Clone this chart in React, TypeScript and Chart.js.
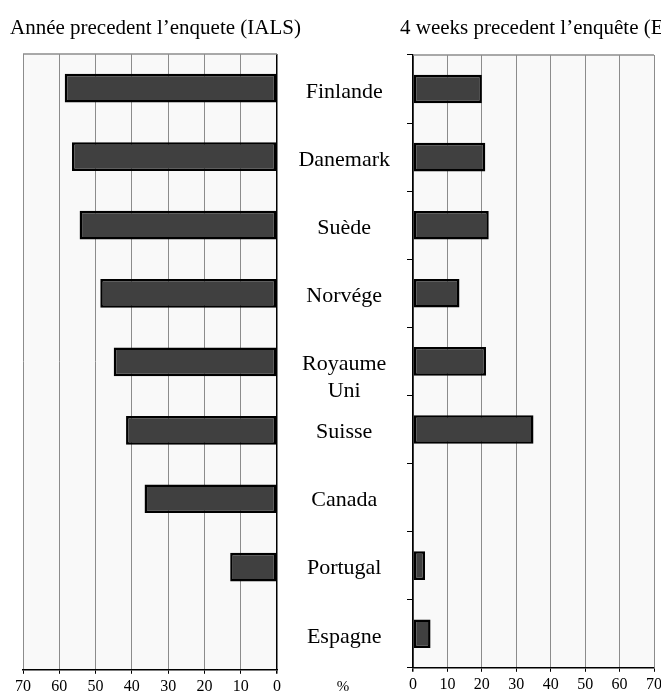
import React, { useEffect, useRef } from 'react';
import { Chart, registerables } from 'chart.js';

Chart.register(...registerables);

const categories: (string | string[])[] = [
  'Finlande',
  'Danemark',
  'Suède',
  'Norvége',
  ['', 'Royaume', 'Uni'],
  'Suisse',
  'Canada',
  'Portugal',
  'Espagne',
];
const yearValues: (number | null)[] = [58.5, 56.5, 54.4, 48.7, 45.0, 41.6, 36.5, 12.9, null];
const weekValues: (number | null)[] = [20, 21, 22, 13.5, 21.2, 35, null, 3.5, 5.1];
const axisMin = 0;
const axisMax = 70;
const axisStep = 10;
const leftTitle = 'Année precedent l’enquete (IALS)';
const rightTitle = '4 weeks precedent l’enquête (EFT)';
const unitLabel = '%';

const SERIF = "'Liberation Serif', 'Times New Roman', serif";
const BAR_FILL = '#404040';
const GRID = '#8c8c8c';
const PLOT_BG = '#f9f9f9';

const framePlugin = (side: 'left' | 'right') => ({
  id: 'frame_' + side,
  beforeDraw(chart: any) {
    const { ctx, chartArea: a } = chart;
    ctx.save();
    ctx.fillStyle = PLOT_BG;
    ctx.fillRect(a.left, a.top, a.right - a.left, a.bottom - a.top);
    ctx.restore();
  },
  beforeDatasetsDraw(chart: any) {
    const { ctx, chartArea: a } = chart;
    ctx.save();
    ctx.strokeStyle = GRID;
    ctx.lineWidth = 1.5;
    ctx.beginPath();
    ctx.moveTo(a.left, a.top);
    ctx.lineTo(a.right, a.top);
    ctx.stroke();
    ctx.restore();
  },
});

function baseXAxis(reverse: boolean) {
  return {
    type: 'linear' as const,
    position: 'bottom' as const,
    min: axisMin,
    max: axisMax,
    reverse,
    border: { display: true, color: '#000', width: 1.5 },
    grid: {
      color: (c: any) => (c.tick && c.tick.value === 0 ? '#000' : GRID),
      lineWidth: (c: any) => (c.tick && c.tick.value === 0 ? 1.5 : 1),
      tickColor: '#000',
      tickLength: 4,
      drawTicks: true,
    },
    ticks: {
      stepSize: axisStep,
      autoSkip: false,
      color: '#000',
      padding: 3,
      maxRotation: 0,
      font: { family: SERIF, size: 16, lineHeight: 1.2 },
    },
  };
}

const barDataset = (data: (number | null)[]) => ({
  data,
  backgroundColor: BAR_FILL,
  borderColor: '#000',
  borderWidth: 2.5,
  borderSkipped: false as const,
  barPercentage: 0.42,
  categoryPercentage: 1,
});

export default function App() {
  const leftRef = useRef<HTMLCanvasElement>(null);
  const rightRef = useRef<HTMLCanvasElement>(null);

  useEffect(() => {
    const left = new Chart(leftRef.current!, {
      type: 'bar',
      data: { labels: categories as any, datasets: [barDataset(yearValues) as any] },
      plugins: [framePlugin('left')],
      options: {
        indexAxis: 'y',
        animation: false,
        responsive: false,
        maintainAspectRatio: false,
        layout: { padding: { left: 23, right: 23, top: 54, bottom: 4 } },
        plugins: { legend: { display: false }, tooltip: { enabled: false }, title: { display: false } },
        scales: {
          x: baseXAxis(true) as any,
          y: { type: 'category', display: false, offset: true },
        },
      },
    });

    const right = new Chart(rightRef.current!, {
      type: 'bar',
      data: { labels: categories as any, datasets: [barDataset(weekValues) as any] },
      plugins: [framePlugin('right')],
      options: {
        indexAxis: 'y',
        animation: false,
        responsive: false,
        maintainAspectRatio: false,
        layout: { padding: { left: 0, right: 43, top: 55, bottom: 6 } },
        plugins: { legend: { display: false }, tooltip: { enabled: false }, title: { display: false } },
        scales: {
          x: baseXAxis(false) as any,
          y: {
            type: 'category',
            position: 'left',
            offset: true,
            border: { display: true, color: '#000', width: 1.5 },
            grid: {
              offset: true,
              drawOnChartArea: false,
              drawTicks: true,
              tickLength: 6,
              tickColor: '#000',
            },
            ticks: {
              autoSkip: false,
              crossAlign: 'center',
              padding: 17,
              labelOffset: 3,
              color: '#000',
              font: { family: SERIF, size: 22, lineHeight: 1.2 },
            },
            afterFit: (scale: any) => {
              scale.width = 136;
            },
          } as any,
        },
      },
    });

    return () => {
      left.destroy();
      right.destroy();
    };
  }, []);

  const titleStyle: React.CSSProperties = {
    position: 'absolute',
    top: 15,
    fontFamily: SERIF,
    fontSize: 21,
    lineHeight: '24px',
    whiteSpace: 'nowrap',
    color: '#000',
  };

  return (
    <div
      style={{
        position: 'fixed',
        left: 0,
        top: 0,
        width: 661,
        height: 693,
        overflow: 'hidden',
        background: '#fff',
      }}
    >
      <canvas
        ref={leftRef}
        width={300}
        height={703}
        style={{ position: 'absolute', left: 0, top: 0, width: 300, height: 703 }}
      />
      <canvas
        ref={rightRef}
        width={420}
        height={703}
        style={{ position: 'absolute', left: 277, top: 0, width: 420, height: 703 }}
      />
      <div style={{ ...titleStyle, left: 10 }}>{leftTitle}</div>
      <div style={{ ...titleStyle, left: 400 }}>{rightTitle}</div>
      <div
        style={{
          position: 'absolute',
          left: 343,
          top: 677,
          transform: 'translateX(-50%)',
          fontFamily: SERIF,
          fontSize: 15,
          lineHeight: '18px',
          color: '#000',
        }}
      >
        {unitLabel}
      </div>
    </div>
  );
}
